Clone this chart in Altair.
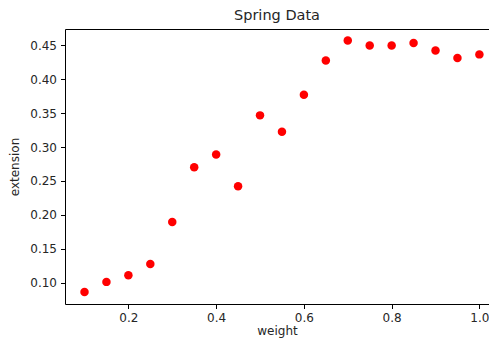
import altair as alt
import pandas as pd

weight = [0.10, 0.15, 0.20, 0.25, 0.30, 0.35, 0.40, 0.45, 0.50, 0.55,
          0.60, 0.65, 0.70, 0.75, 0.80, 0.85, 0.90, 0.95, 1.00]
extension = [0.0864, 0.1013, 0.1109, 0.1278, 0.1894, 0.2702, 0.2890, 0.2422, 0.3467, 0.3226,
             0.3770, 0.4275, 0.4572, 0.4496, 0.4496, 0.4535, 0.4424, 0.4312, 0.4366]
x_ticks = [0.2, 0.4, 0.6, 0.8, 1.0]
y_ticks = [0.10, 0.15, 0.20, 0.25, 0.30, 0.35, 0.40, 0.45]

df = pd.DataFrame({"weight": weight, "extension": extension})

FONT = "DejaVu Sans"
TXT = "#262626"

xscale = alt.Scale(domain=[0.0555, 1.0219], nice=False, zero=False)
yscale = alt.Scale(domain=[0.0687, 0.474], nice=False, zero=False)

points = alt.Chart(df).mark_circle(color="#ff0000", opacity=1, size=72).encode(
    x=alt.X("weight:Q", scale=xscale,
            axis=alt.Axis(title="weight", values=x_ticks, format=".1f", grid=False,
                          domainColor="black", tickColor="black", tickSize=4.5,
                          labelPadding=4, titlePadding=2, labelFontSize=12,
                          titleFontSize=12, titleFontWeight="normal",
                          labelColor=TXT, titleColor=TXT, labelFont=FONT, titleFont=FONT)),
    y=alt.Y("extension:Q", scale=yscale,
            axis=alt.Axis(title="extension", values=y_ticks, format=".2f", grid=False,
                          domainColor="black", tickColor="black", tickSize=4.5,
                          labelPadding=4, titlePadding=8, labelFontSize=12,
                          titleFontSize=12, titleFontWeight="normal",
                          labelColor=TXT, titleColor=TXT, labelFont=FONT, titleFont=FONT)),
)

top_border = alt.Chart(df).mark_point(opacity=0).encode(
    x=alt.X("weight:Q", scale=xscale,
            axis=alt.Axis(orient="top", title=None, labels=False, ticks=False, grid=False,
                          domainColor="black")),
)

chart = alt.layer(points, top_border).resolve_axis(x="independent").properties(
    width=424,
    height=275,
    title=alt.TitleParams("Spring Data", font=FONT, fontSize=14.5, fontWeight="normal",
                          color=TXT, offset=6, anchor="middle"),
    autosize=alt.AutoSizeParams(type="none"),
    padding={"left": 57, "top": 21, "right": 0, "bottom": 36},
).configure_view(stroke=None)

chart.save("out.html", embed_options={"renderer": "svg", "actions": False})
